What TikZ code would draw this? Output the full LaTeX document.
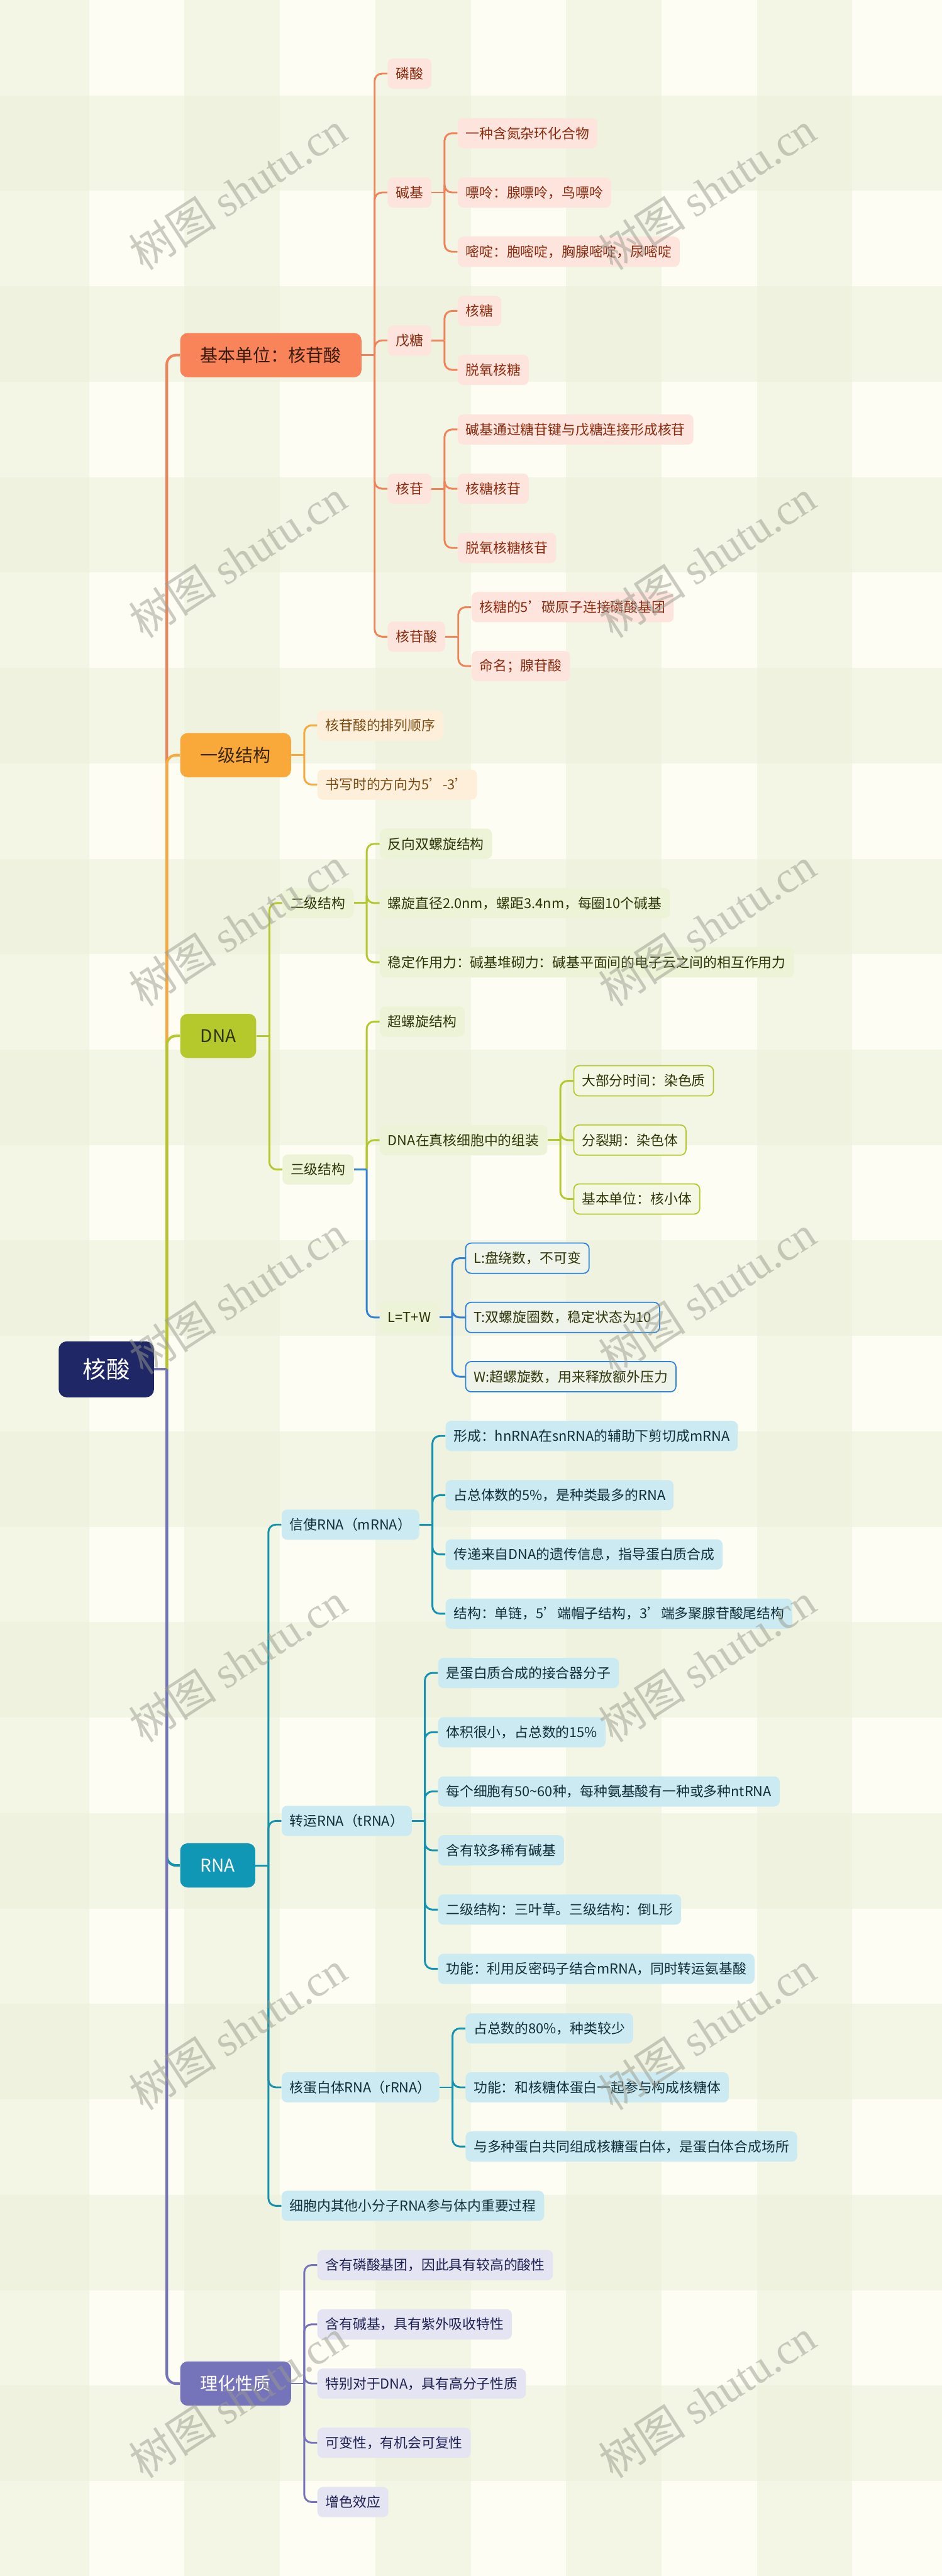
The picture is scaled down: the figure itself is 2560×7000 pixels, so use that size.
\documentclass[tikz,border=0pt]{standalone}
\usepackage{fontspec}
\setmainfont{Noto Sans CJK SC}
\newfontfamily\wmfont{Liberation Serif}

\definecolor{bgcream}{HTML}{FDFDF3}
\definecolor{bgband}{HTML}{EBF0D8}
\definecolor{rootc}{HTML}{1F2766}
\definecolor{orgline}{HTML}{F1835A}
\definecolor{orgmain}{HTML}{F9845A}
\definecolor{orgleaf}{HTML}{FDE4DC}
\definecolor{orgtext}{HTML}{8A2B10}
\definecolor{orgmtext}{HTML}{3A1C0E}
\definecolor{ambline}{HTML}{F8A93C}
\definecolor{ambmain}{HTML}{F9A93A}
\definecolor{ambleaf}{HTML}{FDEFDA}
\definecolor{ambtext}{HTML}{7A4B12}
\definecolor{ambmtext}{HTML}{3A2607}
\definecolor{grnline}{HTML}{B4C82D}
\definecolor{grnmain}{HTML}{B6C92C}
\definecolor{grnleaf}{HTML}{EDF3D6}
\definecolor{grnbox}{HTML}{F4F7E3}
\definecolor{grntext}{HTML}{2E3508}
\definecolor{bluline}{HTML}{3183D8}
\definecolor{blubox}{HTML}{EEF4EA}
\definecolor{tealline}{HTML}{1493B0}
\definecolor{tealmain}{HTML}{0F97B5}
\definecolor{tealleaf}{HTML}{CCEAF2}
\definecolor{tealtext}{HTML}{0F2F39}
\definecolor{purline}{HTML}{7573BA}
\definecolor{purmain}{HTML}{7573BA}
\definecolor{purleaf}{HTML}{E4E4F2}
\definecolor{purtext}{HTML}{1D2050}
\definecolor{wmc}{HTML}{9A9B8E}

\tikzset{
  base/.style={anchor=west, rounded corners=1.5mm, inner xsep=2.2mm, inner ysep=0pt,
    minimum height=8.2mm, font=\fontsize{10.6}{12}\selectfont},
  topic/.style={base, rounded corners=2mm, inner xsep=5.5mm, minimum height=12mm,
    font=\fontsize{13.6}{16}\selectfont},
  root/.style={rounded corners=2.2mm, fill=rootc, text=white, minimum width=25.9mm,
    minimum height=15.2mm, font=\fontsize{18.2}{22}\selectfont},
  oleaf/.style={base, fill=orgleaf, text=orgtext},
  aleaf/.style={base, fill=ambleaf, text=ambtext},
  gleaf/.style={base, fill=grnleaf, text=grntext},
  gbox/.style={base, fill=grnbox, draw=grnline, line width=0.3mm, text=grntext},
  bbox/.style={base, fill=blubox, draw=bluline, line width=0.3mm, text=grntext},
  tleaf/.style={base, fill=tealleaf, text=tealtext},
  pleaf/.style={base, fill=purleaf, text=purtext},
  link/.style={line width=0.5mm, rounded corners=2mm},
  mainlink/.style={line width=0.7mm, rounded corners=2.5mm},
  wmark/.style={rotate=33, text=wmc, text opacity=.5, font=\fontsize{34}{40}\selectfont}
}

\begin{document}
\begin{tikzpicture}[x=0.01cm,y=-0.01cm]
\useasboundingbox (0,0) rectangle (2560,7000);
\fill[bgcream] (0,0) rectangle (2560,7000);
\begin{scope}
\clip (0,0) rectangle (2560,7000);
\foreach \c in {0,2,4,6,8}
  \fill[bgband, fill opacity=.5] ({242+259.3*(\c-1)},0) rectangle ({242+259.3*\c},7000);
\foreach \r in {1,3,...,25}
  \fill[bgband, fill opacity=.5] (0,{259.3*\r}) rectangle (2560,{259.3*(\r+1)});
\end{scope}

\node[root] (hesuan) at (289,3721) {核酸};

\node[topic, fill=orgmain, text=orgmtext] (jb) at (489,965) {基本单位：核苷酸};
\node[topic, fill=ambmain, text=ambmtext] (yj) at (489,2052) {一级结构};
\node[topic, fill=grnmain, text=grntext] (dna) at (489,2815) {DNA};
\node[topic, fill=tealmain, text=white] (rna) at (489,5069) {RNA};
\node[topic, fill=purmain, text=white] (lh) at (489,6477) {理化性质};

\coordinate (hesuan-j) at ([xshift=3.4mm]hesuan.east);
\foreach \m/\col in {jb/orgline, yj/ambline, dna/grnline, rna/tealline, lh/purline}
  \draw[mainlink, \col] (hesuan-j) |- (\m.west);
\draw[mainlink, purline] (hesuan.east) -- (hesuan-j);

\node[oleaf] (lsuan) at ([xshift=7mm]jb.east |- 0,200) {磷酸};
\node[oleaf] (jianji) at ([xshift=7mm]jb.east |- 0,523) {碱基};
\node[oleaf] (wutang) at ([xshift=7mm]jb.east |- 0,925) {戊糖};
\node[oleaf] (hegan) at ([xshift=7mm]jb.east |- 0,1328) {核苷};
\node[oleaf] (hgsuan) at ([xshift=7mm]jb.east |- 0,1730) {核苷酸};
\draw[link, orgline] (jb.east) -- ++(35,0);
\foreach \c in {lsuan,jianji,wutang,hegan,hgsuan}
  \draw[link, orgline] ([xshift=3.5mm]jb.east) |- (\c.west);

\node[oleaf] (jj1) at ([xshift=7mm]jianji.east |- 0,362) {一种含氮杂环化合物};
\node[oleaf] (jj2) at ([xshift=7mm]jianji.east |- 0,523) {嘌呤：腺嘌呤，鸟嘌呤};
\node[oleaf] (jj3) at ([xshift=7mm]jianji.east |- 0,684) {嘧啶：胞嘧啶，胸腺嘧啶，尿嘧啶};
\draw[link, orgline] (jianji.east) -- ++(35,0);
\foreach \c in {jj1,jj2,jj3}
  \draw[link, orgline] ([xshift=3.5mm]jianji.east) |- (\c.west);

\node[oleaf] (wt1) at ([xshift=7mm]wutang.east |- 0,845) {核糖};
\node[oleaf] (wt2) at ([xshift=7mm]wutang.east |- 0,1005) {脱氧核糖};
\draw[link, orgline] (wutang.east) -- ++(35,0);
\foreach \c in {wt1,wt2}
  \draw[link, orgline] ([xshift=3.5mm]wutang.east) |- (\c.west);

\node[oleaf] (hg1) at ([xshift=7mm]hegan.east |- 0,1167) {碱基通过糖苷键与戊糖连接形成核苷};
\node[oleaf] (hg2) at ([xshift=7mm]hegan.east |- 0,1328) {核糖核苷};
\node[oleaf] (hg3) at ([xshift=7mm]hegan.east |- 0,1489) {脱氧核糖核苷};
\draw[link, orgline] (hegan.east) -- ++(35,0);
\foreach \c in {hg1,hg2,hg3}
  \draw[link, orgline] ([xshift=3.5mm]hegan.east) |- (\c.west);

\node[oleaf] (hgs1) at ([xshift=7mm]hgsuan.east |- 0,1650) {核糖的5’碳原子连接磷酸基团};
\node[oleaf] (hgs2) at ([xshift=7mm]hgsuan.east |- 0,1810) {命名；腺苷酸};
\draw[link, orgline] (hgsuan.east) -- ++(35,0);
\foreach \c in {hgs1,hgs2}
  \draw[link, orgline] ([xshift=3.5mm]hgsuan.east) |- (\c.west);

\node[aleaf] (yj1) at ([xshift=7mm]yj.east |- 0,1971) {核苷酸的排列顺序};
\node[aleaf] (yj2) at ([xshift=7mm]yj.east |- 0,2132) {书写时的方向为5’-3’};
\draw[link, ambline] (yj.east) -- ++(35,0);
\foreach \c in {yj1,yj2}
  \draw[link, ambline] ([xshift=3.5mm]yj.east) |- (\c.west);

\node[gleaf] (erji) at ([xshift=7mm]dna.east |- 0,2454) {二级结构};
\node[gleaf] (sanji) at ([xshift=7mm]dna.east |- 0,3178) {三级结构};
\draw[link, grnline] (dna.east) -- ++(35,0);
\foreach \c in {erji,sanji}
  \draw[link, grnline] ([xshift=3.5mm]dna.east) |- (\c.west);

\node[gleaf] (ej1) at ([xshift=7mm]erji.east |- 0,2293) {反向双螺旋结构};
\node[gleaf] (ej2) at ([xshift=7mm]erji.east |- 0,2454) {螺旋直径2.0nm，螺距3.4nm，每圈10个碱基};
\node[gleaf] (ej3) at ([xshift=7mm]erji.east |- 0,2615) {稳定作用力：碱基堆砌力：碱基平面间的电子云之间的相互作用力};
\draw[link, grnline] (erji.east) -- ++(35,0);
\foreach \c in {ej1,ej2,ej3}
  \draw[link, grnline] ([xshift=3.5mm]erji.east) |- (\c.west);

\node[gleaf] (sj1) at ([xshift=7mm]sanji.east |- 0,2776) {超螺旋结构};
\node[gleaf] (sj2) at ([xshift=7mm]sanji.east |- 0,3098) {DNA在真核细胞中的组装};
\node[gleaf] (sj3) at ([xshift=7mm]sanji.east |- 0,3580) {L=T+W};
\foreach \c in {sj1,sj2}
  \draw[link, grnline] ([xshift=3.5mm]sanji.east) |- (\c.west);
\draw[link, bluline] ([xshift=3.5mm]sanji.east) |- (sj3.west);
\draw[link, bluline] (sanji.east) -- ++(35,0);

\node[gbox] (zz1) at ([xshift=7mm]sj2.east |- 0,2937) {大部分时间：染色质};
\node[gbox] (zz2) at ([xshift=7mm]sj2.east |- 0,3098) {分裂期：染色体};
\node[gbox] (zz3) at ([xshift=7mm]sj2.east |- 0,3258) {基本单位：核小体};
\draw[link, grnline] (sj2.east) -- ++(35,0);
\foreach \c in {zz1,zz2,zz3}
  \draw[link, grnline] ([xshift=3.5mm]sj2.east) |- (\c.west);

\node[bbox] (lw1) at ([xshift=7mm]sj3.east |- 0,3419) {L:盘绕数，不可变};
\node[bbox] (lw2) at ([xshift=7mm]sj3.east |- 0,3580) {T:双螺旋圈数，稳定状态为10};
\node[bbox] (lw3) at ([xshift=7mm]sj3.east |- 0,3741) {W:超螺旋数，用来释放额外压力};
\draw[link, bluline] (sj3.east) -- ++(35,0);
\foreach \c in {lw1,lw2,lw3}
  \draw[link, bluline] ([xshift=3.5mm]sj3.east) |- (\c.west);

\node[tleaf] (mrna) at ([xshift=7mm]rna.east |- 0,4143) {信使RNA（mRNA）};
\node[tleaf] (trna) at ([xshift=7mm]rna.east |- 0,4948) {转运RNA（tRNA）};
\node[tleaf] (rrna) at ([xshift=7mm]rna.east |- 0,5672) {核蛋白体RNA（rRNA）};
\node[tleaf] (xrna) at ([xshift=7mm]rna.east |- 0,5994) {细胞内其他小分子RNA参与体内重要过程};
\draw[link, tealline] (rna.east) -- ++(35,0);
\foreach \c in {mrna,trna,rrna,xrna}
  \draw[link, tealline] ([xshift=3.5mm]rna.east) |- (\c.west);

\node[tleaf] (m1) at ([xshift=7mm]mrna.east |- 0,3902) {形成：hnRNA在snRNA的辅助下剪切成mRNA};
\node[tleaf] (m2) at ([xshift=7mm]mrna.east |- 0,4063) {占总体数的5\%，是种类最多的RNA};
\node[tleaf] (m3) at ([xshift=7mm]mrna.east |- 0,4224) {传递来自DNA的遗传信息，指导蛋白质合成};
\node[tleaf] (m4) at ([xshift=7mm]mrna.east |- 0,4385) {结构：单链，5’端帽子结构，3’端多聚腺苷酸尾结构};
\draw[link, tealline] (mrna.east) -- ++(35,0);
\foreach \c in {m1,m2,m3,m4}
  \draw[link, tealline] ([xshift=3.5mm]mrna.east) |- (\c.west);

\node[tleaf] (t1) at ([xshift=7mm]trna.east |- 0,4546) {是蛋白质合成的接合器分子};
\node[tleaf] (t2) at ([xshift=7mm]trna.east |- 0,4707) {体积很小，占总数的15\%};
\node[tleaf] (t3) at ([xshift=7mm]trna.east |- 0,4868) {每个细胞有50{\char"7E}60种，每种氨基酸有一种或多种ntRNA};
\node[tleaf] (t4) at ([xshift=7mm]trna.east |- 0,5028) {含有较多稀有碱基};
\node[tleaf] (t5) at ([xshift=7mm]trna.east |- 0,5189) {二级结构：三叶草。三级结构：倒L形};
\node[tleaf] (t6) at ([xshift=7mm]trna.east |- 0,5350) {功能：利用反密码子结合mRNA，同时转运氨基酸};
\draw[link, tealline] (trna.east) -- ++(35,0);
\foreach \c in {t1,t2,t3,t4,t5,t6}
  \draw[link, tealline] ([xshift=3.5mm]trna.east) |- (\c.west);

\node[tleaf] (r1) at ([xshift=7mm]rrna.east |- 0,5512) {占总数的80\%，种类较少};
\node[tleaf] (r2) at ([xshift=7mm]rrna.east |- 0,5672) {功能：和核糖体蛋白一起参与构成核糖体};
\node[tleaf] (r3) at ([xshift=7mm]rrna.east |- 0,5833) {与多种蛋白共同组成核糖蛋白体，是蛋白体合成场所};
\draw[link, tealline] (rrna.east) -- ++(35,0);
\foreach \c in {r1,r2,r3}
  \draw[link, tealline] ([xshift=3.5mm]rrna.east) |- (\c.west);

\node[pleaf] (l1) at ([xshift=7mm]lh.east |- 0,6155) {含有磷酸基团，因此具有较高的酸性};
\node[pleaf] (l2) at ([xshift=7mm]lh.east |- 0,6316) {含有碱基，具有紫外吸收特性};
\node[pleaf] (l3) at ([xshift=7mm]lh.east |- 0,6477) {特别对于DNA，具有高分子性质};
\node[pleaf] (l4) at ([xshift=7mm]lh.east |- 0,6638) {可变性，有机会可复性};
\node[pleaf] (l5) at ([xshift=7mm]lh.east |- 0,6799) {增色效应};
\draw[link, purline] (lh.east) -- ++(35,0);
\foreach \c in {l1,l2,l3,l4,l5}
  \draw[link, purline] ([xshift=3.5mm]lh.east) |- (\c.west);

\foreach \wy in {518,1518,...,6518}
  \foreach \wx in {646,1922}
    \node[wmark] at (\wx,\wy) {树图 {\wmfont shutu.cn}};
\end{tikzpicture}
\end{document}
